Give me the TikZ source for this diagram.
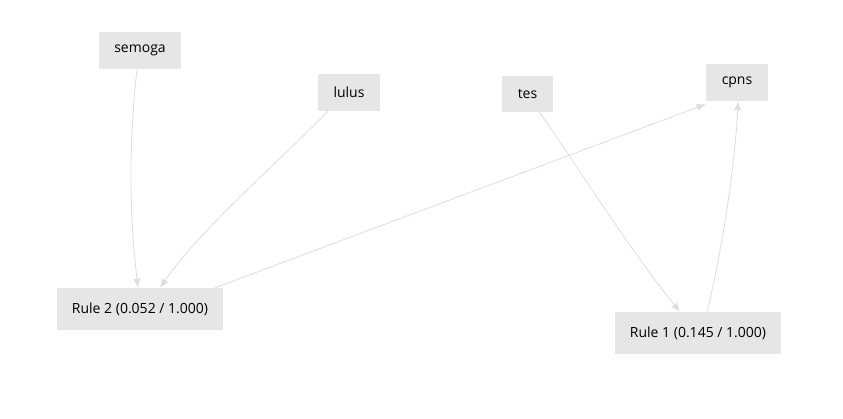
\documentclass[tikz,border=0pt]{standalone}
\usepackage{fontspec}
\setmainfont{Open Sans}
\usetikzlibrary{arrows.meta}
\definecolor{boxfill}{HTML}{E6E6E6}
\definecolor{edgec}{HTML}{DDDDDD}
\tikzset{
  box/.style={fill=boxfill, draw=none, inner sep=0pt, font=\fontsize{14}{16}\selectfont, text=black},
  edge/.style={draw=edgec, line width=0.8pt, -{Latex[length=9pt,width=7pt]}}
}
\begin{document}
\begin{tikzpicture}[x=1pt,y=-1pt]
\useasboundingbox[fill=white] (0,0) rectangle (843,418);
\node[box, minimum width=82pt, minimum height=37pt] (semoga) at (140,50.5) {semoga};
\node[box, minimum width=62pt, minimum height=37pt] (lulus) at (349,92.5) {lulus};
\node[box, minimum width=51pt, minimum height=36pt] (tes) at (527.5,94) {tes};
\node[box, minimum width=62pt, minimum height=37pt] (cpns) at (737,82.5) {cpns};
\node[box, minimum width=166pt, minimum height=42pt] (rule2) at (140,309) {Rule 2 (0.052 / 1.000)};
\node[box, minimum width=166pt, minimum height=42pt] (rule1) at (698,333) {Rule 1 (0.145 / 1.000)};
\draw[edge] ([xshift=-3pt]semoga.south) .. controls (128,150) and (130,220) .. ([xshift=-2pt]rule2.north);
\draw[edge] ([xshift=-21pt]lulus.south) .. controls (270,170) and (200,230) .. ([xshift=20pt]rule2.north);
\draw[edge] ([xshift=75pt]rule2.north) -- ([yshift=-3pt]cpns.south west);
\draw[edge] ([xshift=12pt]tes.south) .. controls (580,170) and (630,250) .. ([xshift=-18pt]rule1.north);
\draw[edge] ([xshift=9pt]rule1.north) .. controls (720,260) and (735,170) .. ([xshift=1pt]cpns.south);
\end{tikzpicture}
\end{document}
